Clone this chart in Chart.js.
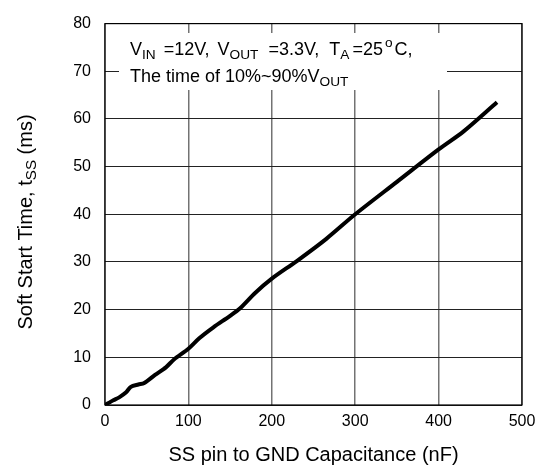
<!DOCTYPE html>
<html>
<head>
<meta charset="utf-8">
<script src="https://cdn.jsdelivr.net/npm/chart.js@4/dist/chart.umd.min.js"></script>
<style>
html,body{margin:0;padding:0;background:#fff;}
#wrap{width:545px;height:472px;position:relative;}
</style>
</head>
<body>
<div id="wrap"><canvas id="c" width="545" height="472"></canvas></div>
<script>
// Data
const capacitance = [0, 5, 10, 17, 25, 31, 40, 47, 60, 73, 83, 100, 113, 130, 150, 162, 180, 200, 230, 265, 300, 350, 400, 430, 470];
const softStartTime = [0, 0.5, 1.0, 1.6, 2.6, 3.8, 4.3, 4.6, 6.3, 7.9, 9.6, 11.8, 14.0, 16.3, 18.7, 20.3, 23.5, 26.5, 30.2, 34.8, 40.0, 46.8, 53.6, 57.4, 63.5];
const xTicks = [0, 100, 200, 300, 400, 500];
const yTicks = [0, 10, 20, 30, 40, 50, 60, 70, 80];

const xTitle = [{t: 'SS pin to GND Capacitance (nF)'}];
const yTitle = [{t: 'Soft Start Time, t'}, {t: 'SS', sub: true}, {t: ' (ms)'}];
const noteLine1 = [{t: 'V'}, {t: 'IN', sub: true, gap: 3}, {t: ' =12V,'}, {t: ' ', gap: 3}, {t: 'V'}, {t: 'OUT', sub: true, gap: 5}, {t: ' =3.3V,'}, {t: ' ', gap: 5}, {t: 'T'}, {t: 'A', sub: true, gap: 3}, {t: '=25', gap: 2}, {t: 'o', sup: true, gap: 2}, {t: 'C,'}];
const noteLine2 = [{t: 'The time of 10%~90%V'}, {t: 'OUT', sub: true}];

const FONT = '"Liberation Sans", Arial, sans-serif';

function richWidth(ctx, segs, size) {
  let w = 0;
  for (const s of segs) {
    const fs = (s.sub || s.sup) ? size * 0.76 : size;
    ctx.font = fs + 'px ' + FONT;
    w += ctx.measureText(s.t).width + (s.gap || 0);
  }
  return w;
}
function drawRich(ctx, segs, x, y, size) {
  let cx = x;
  ctx.textBaseline = 'alphabetic';
  ctx.textAlign = 'left';
  for (const s of segs) {
    const fs = (s.sub || s.sup) ? size * 0.76 : size;
    ctx.font = fs + 'px ' + FONT;
    let dy = 0;
    if (s.sub) dy = size * 0.2;
    if (s.sup) dy = -size * 0.42;
    ctx.fillText(s.t, cx, y + dy);
    cx += ctx.measureText(s.t).width + (s.gap || 0);
  }
}

const decor = {
  id: 'decor',
  afterDatasetsDraw(chart) {
    const ctx = chart.ctx;
    const a = chart.chartArea;
    ctx.save();
    // frame
    ctx.strokeStyle = '#000';
    ctx.lineWidth = 1.2;
    ctx.strokeRect(a.left, a.top, a.right - a.left, a.bottom - a.top);
    // annotation box
    ctx.fillStyle = '#fff';
    ctx.fillRect(119, 33, 328, 57);
    ctx.fillStyle = '#000';
    drawRich(ctx, noteLine1, 130, 55, 18);
    drawRich(ctx, noteLine2, 130, 82, 18);
    // x title
    const wx = richWidth(ctx, xTitle, 20);
    drawRich(ctx, xTitle, (a.left + a.right) / 2 - wx / 2, 461, 20);
    // y title
    const wy = richWidth(ctx, yTitle, 20);
    ctx.translate(32, 222);
    ctx.rotate(-Math.PI / 2);
    drawRich(ctx, yTitle, -wy / 2, 0, 20);
    ctx.restore();
  }
};

new Chart(document.getElementById('c'), {
  type: 'scatter',
  data: {
    datasets: [{
      data: capacitance.map((x, i) => ({x: x, y: softStartTime[i]})),
      showLine: true,
      borderColor: '#000',
      backgroundColor: '#000',
      borderWidth: 4,
      pointRadius: 0,
      tension: 0.3,
      fill: false
    }]
  },
  options: {
    responsive: false,
    animation: false,
    devicePixelRatio: 1,
    layout: {padding: {left: 0, top: 18, right: 23, bottom: 0}},
    plugins: {legend: {display: false}, tooltip: {enabled: false}},
    scales: {
      x: {
        type: 'linear', min: 0, max: 500,
        afterBuildTicks(s) { s.ticks = xTicks.map(v => ({value: v})); },
        afterFit(s) { s.height = 67; },
        grid: {color: 'rgba(0,0,0,0.55)', lineWidth: 1.5, drawTicks: false},
        border: {display: false},
        ticks: {color: '#000', font: {family: FONT, size: 16}, padding: 7, maxRotation: 0}
      },
      y: {
        type: 'linear', min: 0, max: 80,
        afterBuildTicks(s) { s.ticks = yTicks.map(v => ({value: v})); },
        afterFit(s) { s.width = 105; },
        grid: {color: '#222', lineWidth: 1, drawTicks: false},
        border: {display: false},
        ticks: {color: '#000', font: {family: FONT, size: 16}, padding: 14}
      }
    }
  },
  plugins: [decor]
});
</script>
</body>
</html>
